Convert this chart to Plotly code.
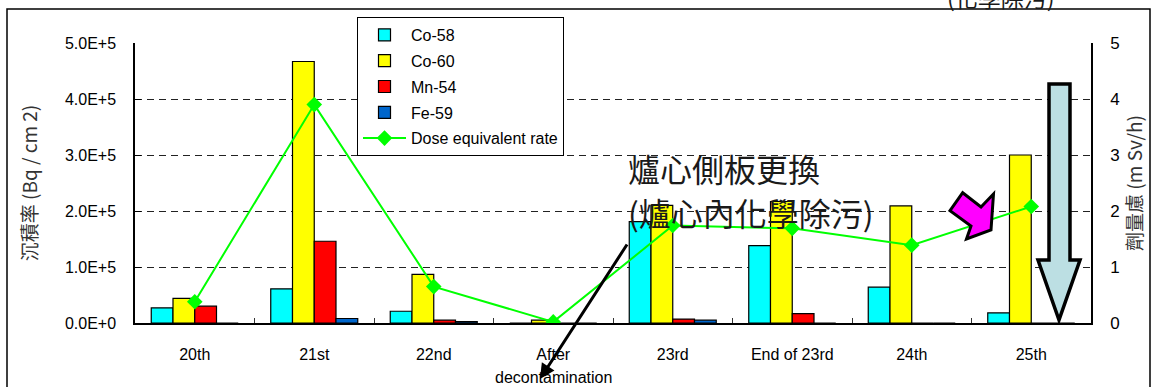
import plotly.graph_objects as go

# ---- data ----
categories = ["20th", "21st", "22nd", "After decontamination", "23rd",
              "End of 23rd", "24th", "25th"]
tick_labels = ["20th", "21st", "22nd", "After", "23rd", "End of 23rd", "24th", "25th"]

co58 = [2.7e4, 6.1e4, 2.1e4, 0, 1.81e5, 1.38e5, 6.4e4, 1.8e4]
co60 = [4.4e4, 4.67e5, 8.7e4, 5e3, 2.1e5, 2.17e5, 2.09e5, 3.0e5]
mn54 = [3.0e4, 1.46e5, 5e3, 0, 7e3, 1.66e4, 0, 0]
fe59 = [0, 8e3, 2.5e3, 0, 5e3, 0, 0, 0]
dose_rate = [0.38, 3.9, 0.65, 0.02, 1.74, 1.69, 1.39, 2.08]

left_ticks = [0, 1e5, 2e5, 3e5, 4e5, 5e5]
left_tick_text = ["0.0E+0", "1.0E+5", "2.0E+5", "3.0E+5", "4.0E+5", "5.0E+5"]
right_ticks = [0, 1, 2, 3, 4, 5]

# ---- page geometry (pixels) ----
W, H = 1153, 387
ML, MR, MT, MB = 135, 62, 43, 64
PW, PH = W - ML - MR, H - MT - MB


def px(x, y):
    """pixel position on the page -> paper coordinates"""
    return (x - ML) / PW, (H - MB - y) / PH


def path(points):
    parts = []
    for i, (x, y) in enumerate(points):
        u, v = px(x, y)
        parts.append(("M" if i == 0 else "L") + f"{u:.5f},{v:.5f}")
    return " ".join(parts) + " Z"


LATIN = "Liberation Sans, Arial, Noto Sans CJK TC"
CJK = "Noto Sans CJK TC, Liberation Sans"

fig = go.Figure()

series = [("Co-58", co58, "#00FFFF"), ("Co-60", co60, "#FFFF00"),
          ("Mn-54", mn54, "#FF0000"), ("Fe-59", fe59, "#0066CC")]
for name, vals, color in series:
    fig.add_trace(go.Bar(
        x=categories, y=vals, name=name, legendgroup=name,
        marker=dict(color=color, line=dict(color="black", width=1.2)),
    ))

fig.add_trace(go.Scatter(
    x=categories, y=dose_rate, name="Dose equivalent rate", legendgroup="dose",
    yaxis="y2", mode="lines+markers",
    line=dict(color="#00FF00", width=2),
    marker=dict(symbol="diamond", size=12, color="#00FF00"),
))

grid = dict(showgrid=True, gridcolor="#222222", griddash="7px,5px", gridwidth=1)

fig.update_layout(
    width=W, height=H,
    margin=dict(l=ML, r=MR, t=MT, b=MB),
    paper_bgcolor="white", plot_bgcolor="white",
    barmode="group", bargap=0.272, bargroupgap=0,
    font=dict(family=LATIN, size=16, color="black"),
    showlegend=True,
    legend=dict(
        x=px(357, 0)[0], y=px(0, 17)[1], xanchor="left", yanchor="top",
        bgcolor="white", bordercolor="black", borderwidth=1,
        font=dict(family=LATIN, size=16), itemwidth=43,
        traceorder="grouped", tracegroupgap=2,
    ),
    xaxis=dict(
        type="category", categoryorder="array", categoryarray=categories,
        tickmode="array", tickvals=categories, ticktext=tick_labels,
        tickson="boundaries", ticks="inside", ticklen=5, tickcolor="#333",
        showline=True, linecolor="black", linewidth=1.5,
        tickfont=dict(size=16), ticklabelstandoff=16,
        showgrid=False, zeroline=False,
    ),
    yaxis=dict(
        range=[0, 5e5], tickmode="array", tickvals=left_ticks, ticktext=left_tick_text,
        ticks="inside", ticklen=6, tickcolor="black",
        showline=True, linecolor="black", linewidth=1.5,
        tickfont=dict(size=16), ticklabelstandoff=14,
        zeroline=False,
        title=dict(text="沉積率 (Bq / cm 2)", font=dict(family=CJK, size=19, color="#333"),
                   standoff=22),
        **grid,
    ),
    yaxis2=dict(
        range=[0, 5], tickmode="array", tickvals=right_ticks,
        overlaying="y", side="right",
        showline=True, linecolor="black", linewidth=1.5,
        ticks="", tickfont=dict(size=17), ticklabelstandoff=14,
        showgrid=False, zeroline=False,
        title=dict(text="劑量慮 (m Sv/h)", font=dict(family=CJK, size=19, color="#333"),
                   standoff=3),
    ),
)

# outer frame of the chart area
x0, y0 = px(7, 9)
x1, y1 = px(1150, 400)
fig.add_shape(type="rect", xref="paper", yref="paper", x0=x0, y0=y1, x1=x1, y1=y0,
              line=dict(color="black", width=1.5), fillcolor="rgba(0,0,0,0)", layer="below")

# big downward block arrow beside the 25th cycle
down_arrow = [(1049, 84), (1070, 84), (1070, 260), (1080, 260), (1059, 320),
              (1038, 260), (1049, 260)]
fig.add_shape(type="path", xref="paper", yref="paper", path=path(down_arrow),
              fillcolor="#BCDFE3", line=dict(color="black", width=3.5))

# small magenta block arrow pointing down-right
mag_arrow = [(962.7, 192.7), (981, 207), (993.5, 194), (991, 230),
             (966.5, 239), (971, 226), (950, 210.7)]
fig.add_shape(type="path", xref="paper", yref="paper", path=path(mag_arrow),
              fillcolor="#FF00FF", line=dict(color="black", width=3))

# text notes
note_font = dict(family=CJK, size=32, color="#1a1a1a")
for text, y in [("爐心側板更換", 168), ("(爐心內化學除污)", 212)]:
    u, v = px(626, y)
    fig.add_annotation(xref="paper", yref="paper", x=u, y=v, text=text, showarrow=False,
                       xanchor="left", yanchor="middle", font=note_font)

u, v = px(1001, -3)
fig.add_annotation(xref="paper", yref="paper", x=u, y=v, text="(化學除污)", showarrow=False,
                   xanchor="center", yanchor="middle",
                   font=dict(family=CJK, size=23, color="#1a1a1a"))

# second line of the "After decontamination" label
u, v = px(0, 377)
fig.add_annotation(xref="x", yref="paper", x=categories[3], y=v, text="decontamination",
                   showarrow=False, xanchor="center", yanchor="middle",
                   font=dict(family=LATIN, size=16, color="black"))

# pointer from the note down to the decontamination label
hx, hy = px(540, 379)
fig.add_annotation(xref="paper", yref="paper", x=hx, y=hy, ax=628 - 540, ay=243 - 379,
                   text="", showarrow=True, arrowhead=2, arrowsize=1, arrowwidth=3,
                   arrowcolor="black")

fig.write_html("out.html")
